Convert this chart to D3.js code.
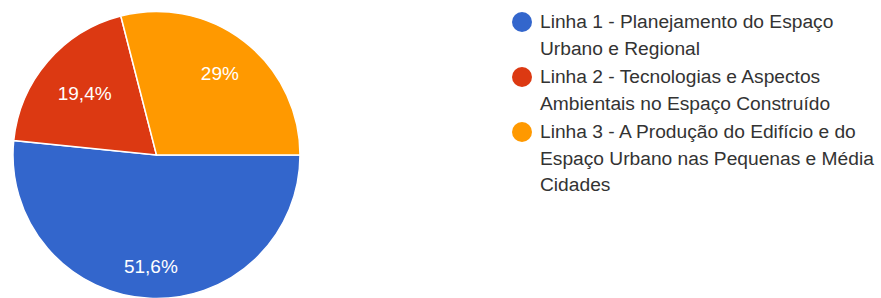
<!DOCTYPE html>
<html><head><meta charset="utf-8">
<script src="https://cdn.jsdelivr.net/npm/d3@7"></script>
<style>html,body{margin:0;padding:0;background:#fff;overflow:hidden}</style>
</head><body>
<script>
const categories = [
  ["Linha 1 - Planejamento do Espaço", "Urbano e Regional"],
  ["Linha 2 - Tecnologias e Aspectos", "Ambientais no Espaço Construído"],
  ["Linha 3 - A Produção do Edifício e do", "Espaço Urbano nas Pequenas e Média", "Cidades"]
];
const values = [51.6, 19.4, 29];
const labels = ["51,6%", "19,4%", "29%"];
const colors = ["#3366cc", "#dc3912", "#ff9900"];

const W = 881, H = 298;
const FONT = "Arial, 'Liberation Sans', sans-serif";
const svg = d3.select("body").append("svg").attr("width", W).attr("height", H);
const cx = 156.5, cy = 155, r = 143.5;
const pie = d3.pie().sort(null).startAngle(Math.PI/2).endAngle(Math.PI/2 + 2*Math.PI);
const arcs = pie(values);
const arc = d3.arc().innerRadius(0).outerRadius(r);
const g = svg.append("g").attr("transform", `translate(${cx},${cy})`);
g.selectAll("path").data(arcs).join("path")
  .attr("d", arc).attr("fill", (d,i)=>colors[i])
  .attr("stroke", "#fff").attr("stroke-width", 1.5);
// label radius as fraction of pie radius, per slice layout
const labelFrac = [0.78, 0.66, 0.72];
g.selectAll("text").data(arcs).join("text")
  .attr("transform", (d,i) => {
    const la = d3.arc().innerRadius(r*labelFrac[i]).outerRadius(r*labelFrac[i]);
    return `translate(${la.centroid(d)})`;
  })
  .attr("text-anchor", "middle").attr("dy", "0.35em")
  .attr("fill", "#fff").attr("font-family", FONT).attr("font-size", 19)
  .text((d,i)=>labels[i]);

const lg = svg.append("g").attr("font-family", FONT).attr("font-size", 19.2).attr("fill", "#333");
let y = 28;
categories.forEach((lines, i) => {
  lg.append("circle").attr("cx", 522).attr("cy", y - 6).attr("r", 10).attr("fill", colors[i]);
  lines.forEach((t, j) => {
    lg.append("text").attr("x", 540).attr("y", y + j*26.5).text(t);
  });
  y += (lines.length - 1) * 26.5 + 28.5;
});
</script>
</body></html>
